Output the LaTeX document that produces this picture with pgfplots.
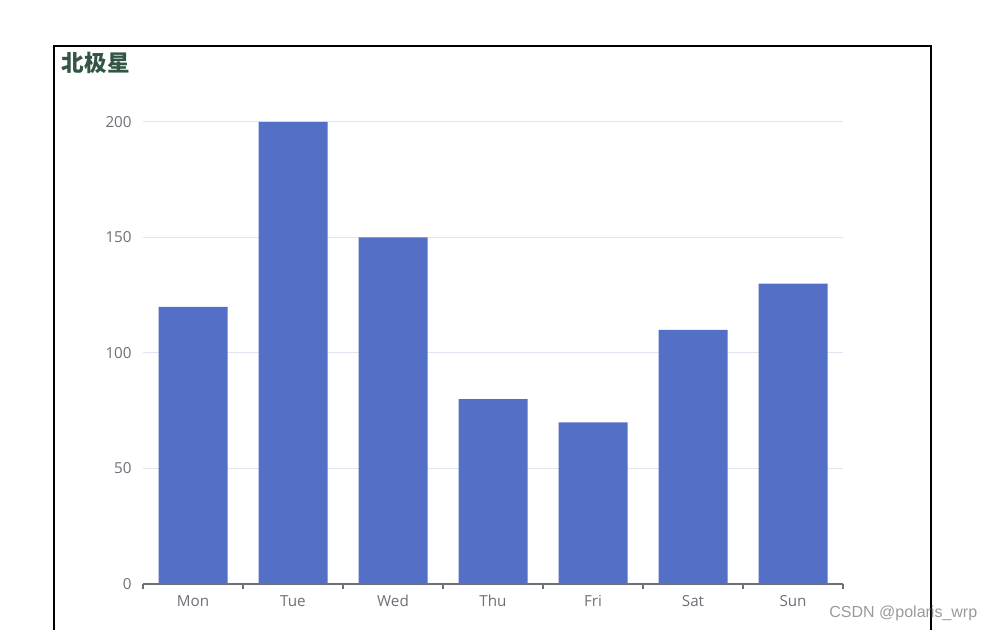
\documentclass[border=0pt]{standalone}
\usepackage{pgfplots}
\pgfplotsset{compat=1.18}
\usepackage{fontspec}
\setmainfont{Open Sans}
\newfontfamily\cjk{Noto Sans CJK SC}
\newfontfamily\wm{Liberation Sans}
\definecolor{barblue}{HTML}{5470C6}
\definecolor{axisgray}{HTML}{6E7079}
\definecolor{gridc}{HTML}{E0E6F1}
\definecolor{titlec}{HTML}{335544}
\definecolor{wmgray}{HTML}{9A9A9A}
\begin{document}
\begin{tikzpicture}[x=0.5pt,y=0.5pt]
\useasboundingbox (0,0) rectangle (990,630);
\fill[white] (0,0) rectangle (990,630);
\begin{axis}[
  at={(71.5pt,23pt)}, anchor=south west,
  width=350pt, height=231pt, scale only axis,
  xmin=-0.5, xmax=6.5, ymin=0, ymax=200,
  axis x line=bottom, axis y line=left,
  axis line style={-},
  x axis line style={draw=axisgray, line width=0.7pt},
  y axis line style={draw=none},
  xtick={0,...,6},
  xticklabels={Mon,Tue,Wed,Thu,Fri,Sat,Sun},
  ytick={0,50,...,200},
  major tick length=0pt,
  tick style={draw=axisgray, line width=0.6pt},
  extra x ticks={-0.5,0.5,...,6.5},
  extra x tick labels={},
  extra x tick style={tick align=outside, major tick length=2.7pt, grid=none},
  ymajorgrids, major grid style={draw=gridc, line width=0.5pt},
  ticklabel style={font=\fontsize{7.6pt}{9pt}\selectfont, text=axisgray},
  /pgf/number format/assume math mode=true,
  yticklabel style={anchor=east, inner sep=0pt, xshift=-5.5pt},
  xticklabel style={anchor=north, inner sep=0pt, yshift=-5.5pt},
  clip=false,
]
\addplot[ybar, bar width=34.5pt, fill=barblue, draw=none] coordinates {(0,120)(1,200)(2,150)(3,80)(4,70)(5,110)(6,130)};
\end{axis}
\draw[black, line width=0.6pt] (54,-10) -- (54,584) -- (931,584) -- (931,-10);
\node[anchor=west, inner sep=0pt, text=titlec, font=\cjk\bfseries\fontsize{11.3pt}{13pt}\selectfont] at (61.5,567.5) {北极星};
\node[anchor=base west, inner sep=0pt, text=wmgray, font=\wm\fontsize{8pt}{9.6pt}\selectfont] at (829,12.5) {CSDN @polaris\_wrp};
\end{tikzpicture}
\end{document}
